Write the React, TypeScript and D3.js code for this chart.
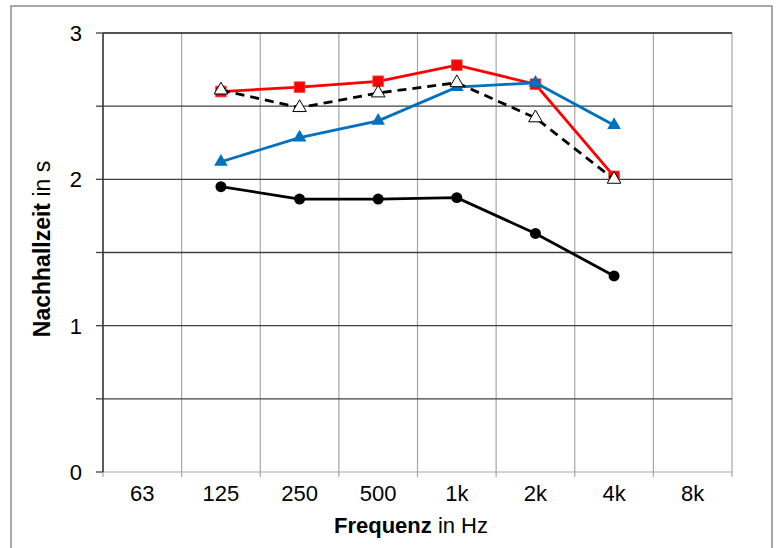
import * as d3 from "d3";

const frequencies = ["63", "125", "250", "500", "1k", "2k", "4k", "8k"];
const measured = ["125", "250", "500", "1k", "2k", "4k"];

const redSeries = [2.6, 2.63, 2.67, 2.78, 2.65, 2.02];
const blueSeries = [2.12, 2.285, 2.4, 2.63, 2.66, 2.37];
const dashedSeries = [2.61, 2.49, 2.59, 2.66, 2.42, 2.0];
const blackSeries = [1.95, 1.865, 1.865, 1.875, 1.63, 1.34];

const yTicks = [0, 1, 2, 3];
const yGrid = [0.5, 1, 1.5, 2, 2.5, 3];

const width = 777;
const height = 548;
const marginTop = 33;
const marginRight = 45;
const marginBottom = 76;
const marginLeft = 103;

const font = "Liberation Sans, Arial, sans-serif";

export default function App() {
  const x = d3
    .scaleBand()
    .domain(frequencies)
    .range([marginLeft, width - marginRight])
    .padding(0);
  const y = d3
    .scaleLinear()
    .domain([0, 3])
    .range([height - marginBottom, marginTop]);

  const cx = (f) => x(f) + x.bandwidth() / 2;
  const line = d3
    .line()
    .x((d) => cx(d[0]))
    .y((d) => y(d[1]));

  const pts = (vals) => measured.map((f, i) => [f, vals[i]]);

  const square = d3.symbol(d3.symbolSquare, 115)();
  const triangle = d3.symbol(d3.symbolTriangle, 80)();
  const circle = d3.symbol(d3.symbolCircle, 95)();

  const boundaries = frequencies.map((f) => x(f)).concat([x.range()[1]]);
  const [x0, x1] = x.range();

  return (
    <svg
      width={width}
      height={height}
      style={{ position: "absolute", left: 0, top: 0 }}
      fontFamily={font}
    >
      <rect x={0} y={0} width={width} height={height} fill="white" />
      <rect
        x={11}
        y={6}
        width={761}
        height={560}
        fill="none"
        stroke="#8c8c8c"
        strokeWidth={1.5}
      />

      {/* vertical grid */}
      {boundaries.slice(1).map((bx, i) => (
        <line
          key={"v" + i}
          x1={bx}
          x2={bx}
          y1={y(3)}
          y2={y(0)}
          stroke="#a6a6a6"
          strokeWidth={1.2}
        />
      ))}
      {/* x axis line + ticks */}
      <line x1={x0} x2={x1} y1={y(0)} y2={y(0)} stroke="#a6a6a6" strokeWidth={1.2} />
      {boundaries.map((bx, i) => (
        <line
          key={"xt" + i}
          x1={bx}
          x2={bx}
          y1={y(0)}
          y2={y(0) + 5}
          stroke="#a6a6a6"
          strokeWidth={1.2}
        />
      ))}

      {/* horizontal grid */}
      {yGrid.map((v) => (
        <line
          key={"h" + v}
          x1={x0}
          x2={x1}
          y1={y(v)}
          y2={y(v)}
          stroke={v === 3 ? "#1a1a1a" : "#404040"}
          strokeWidth={1.3}
        />
      ))}

      {/* y axis */}
      <line x1={x0} x2={x0} y1={y(3)} y2={y(0)} stroke="#333" strokeWidth={1.6} />
      {yTicks.concat([0.5, 1.5, 2.5]).map((v) => (
        <line
          key={"yt" + v}
          x1={x0 - 7}
          x2={x0}
          y1={y(v)}
          y2={y(v)}
          stroke="#404040"
          strokeWidth={1.3}
        />
      ))}
      {yTicks.map((v) => (
        <text
          key={"yl" + v}
          x={82}
          y={y(v)}
          dy="0.36em"
          textAnchor="end"
          fontSize={22}
          fill="#000"
        >
          {v}
        </text>
      ))}

      {frequencies.map((f) => (
        <text
          key={"xl" + f}
          x={cx(f)}
          y={501}
          textAnchor="middle"
          fontSize={22}
          fill="#000"
        >
          {f}
        </text>
      ))}

      {/* axis titles */}
      <text x={411} y={533} textAnchor="middle" fontSize={22} fill="#000">
        <tspan fontWeight="bold">Frequenz</tspan> in Hz
      </text>
      <text
        transform={`translate(50,${249}) rotate(-90)`}
        textAnchor="middle"
        fontSize={23}
        fill="#000"
      >
        <tspan fontWeight="bold">Nachhallzeit</tspan> in s
      </text>

      {/* red series */}
      <path d={line(pts(redSeries))} fill="none" stroke="#ff0000" strokeWidth={2.8} />
      {pts(redSeries).map((d, i) => (
        <path
          key={"r" + i}
          d={square}
          transform={`translate(${cx(d[0])},${y(d[1])})`}
          fill="#ff0000"
          stroke="#e84848"
          strokeWidth={0.8}
        />
      ))}

      {/* blue series */}
      <path d={line(pts(blueSeries))} fill="none" stroke="#0070c0" strokeWidth={2.8} />
      {pts(blueSeries).map((d, i) => (
        <path
          key={"b" + i}
          d={triangle}
          transform={`translate(${cx(d[0])},${y(d[1])})`}
          fill="#0070c0"
        />
      ))}

      {/* dashed series */}
      <path
        d={line(pts(dashedSeries))}
        fill="none"
        stroke="#000"
        strokeWidth={2.8}
        strokeDasharray="9,6"
      />
      {pts(dashedSeries).map((d, i) => (
        <path
          key={"d" + i}
          d={triangle}
          transform={`translate(${cx(d[0])},${y(d[1])})`}
          fill="#fff"
          stroke="#000"
          strokeWidth={1}
        />
      ))}

      {/* black series */}
      <path d={line(pts(blackSeries))} fill="none" stroke="#000" strokeWidth={2.8} />
      {pts(blackSeries).map((d, i) => (
        <path
          key={"k" + i}
          d={circle}
          transform={`translate(${cx(d[0])},${y(d[1])})`}
          fill="#000"
        />
      ))}
    </svg>
  );
}
